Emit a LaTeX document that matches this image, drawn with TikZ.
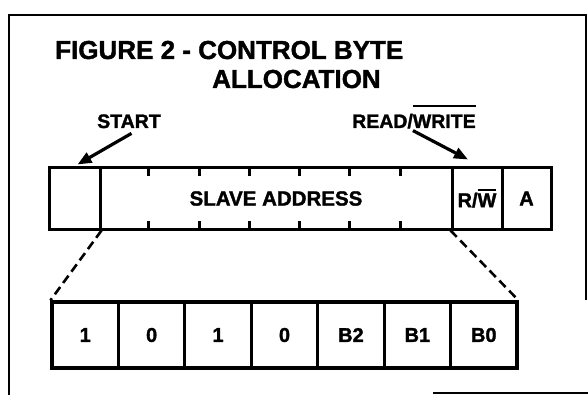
\documentclass[tikz,border=0pt]{standalone}
\usepackage{fontspec}
\setmainfont{Liberation Sans}[BoldFeatures={FakeBold=1.5}]
\usetikzlibrary{positioning, arrows.meta}

% overline raised by #1 above the text
\newcommand{\ovbar}[2]{\setbox0\hbox{#2}\rlap{\rule[\dimexpr\ht0+#1\relax]{\wd0}{2pt}}\box0}

\begin{document}
\begin{tikzpicture}[x=1pt, y=-1pt,
    cell/.style={draw, line width=3pt, minimum height=61pt, inner sep=0pt, font=\bfseries\fontsize{20}{20}\selectfont},
    bitbox/.style={draw, line width=3.2pt, minimum width=66.4pt, minimum height=66pt, inner sep=0pt, font=\bfseries\fontsize{20}{20}\selectfont},
    lbl/.style={anchor=base west, inner sep=0pt, font=\bfseries\fontsize{19.5}{19.5}\selectfont},
    pointer/.style={line width=3.2pt, -{Triangle[length=14pt,width=11pt]}},
    zoomline/.style={line width=2.6pt, dash pattern=on 9pt off 5pt}]
        \useasboundingbox (0,0) rectangle (588,395);

        % Frame
        \draw[line width=2.6pt] (586,300) -- (586,15) -- (9,15) -- (9,395);
        \draw[line width=2.6pt] (433,393) -- (588,393);

        % Title
        \node[anchor=base west, inner sep=0pt, font=\bfseries\fontsize{26}{26}\selectfont] (title) at (55,59) {FIGURE 2 - CONTROL BYTE};
        \node[anchor=base west, inner sep=0pt, font=\bfseries\fontsize{26}{26}\selectfont] (title2) at (212,88) {ALLOCATION};

        % Control byte
        \node[cell, minimum width=51pt] (startbit) at (74.5,198.5) {};
        \node[cell, minimum width=352pt, font=\bfseries\fontsize{20.5}{20.5}\selectfont] (addr) at (276,198.5) {SLAVE ADDRESS};
        \node[cell, minimum width=50pt] (rw) at (477,198.5) {R/\ovbar{2pt}{W}};
        \node[cell, minimum width=49pt] (ack) at (526.5,198.5) {A};

        \foreach \k in {1,...,6} {
          \draw[line width=3pt] ([xshift=\k*50.29pt]addr.north west) -- ++(0,10);
          \draw[line width=3pt] ([xshift=\k*50.29pt]addr.south west) -- ++(0,-10);
        }

        % Address bits
        \foreach \i/\val in {0/1, 1/0, 2/1, 3/0, 4/B2, 5/B1, 6/B0} {
          \node[bitbox] (b\i) at (52+\i*66.43+33.2,335) {\val};
        }

        \draw[zoomline] (startbit.south east) -- (b0.north west);
        \draw[zoomline] (rw.south west) -- (b6.north east);

        % Pointers
        \node[lbl] (lblstart) at (97,128) {START};
        \node[lbl] (lblrw) at (352,128) {READ/\ovbar{8pt}{WRITE}};
        \draw[pointer] ([xshift=2.5pt,yshift=-5pt]lblstart.south) -- ([xshift=3pt,yshift=2pt]startbit.north);
        \draw[pointer] ([xshift=-1pt,yshift=-2pt]lblrw.south) -- ([xshift=-9pt,yshift=7pt]rw.north);
      \end{tikzpicture}
\end{document}
